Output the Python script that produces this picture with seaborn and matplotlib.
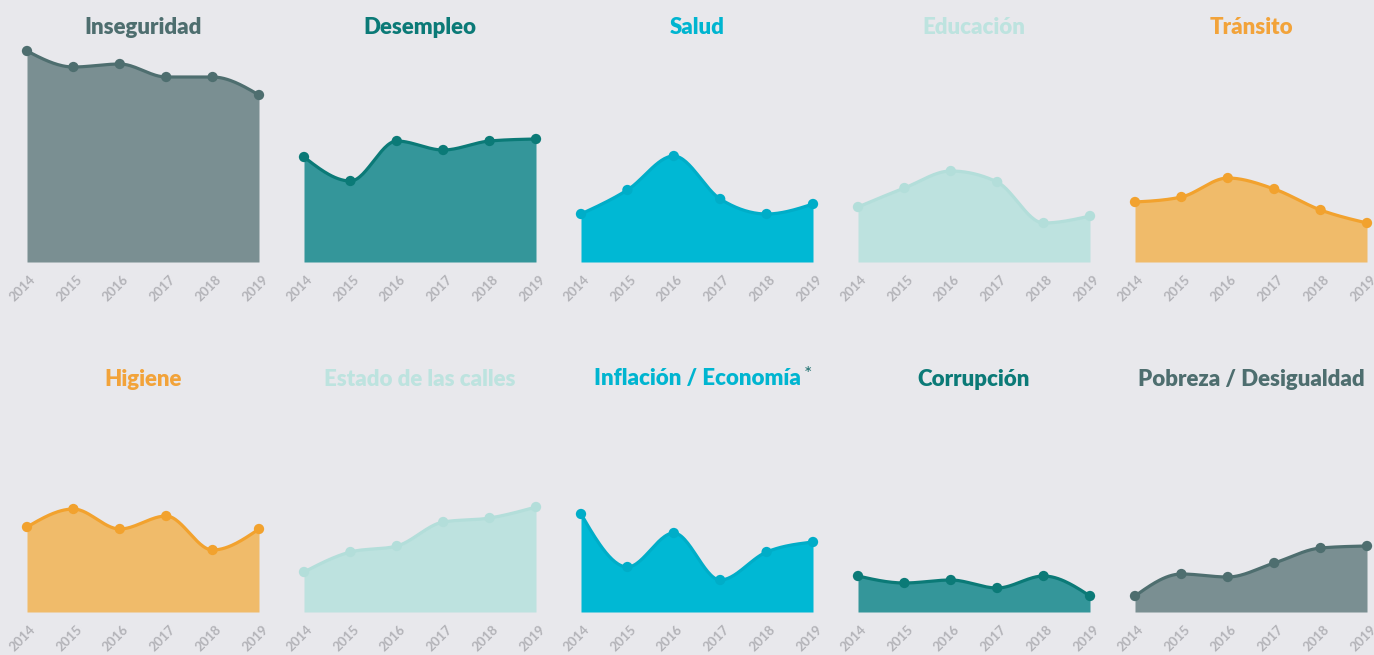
import numpy as np
import pandas as pd
import matplotlib
matplotlib.use("Agg")
import matplotlib.pyplot as plt
import matplotlib.transforms as mtransforms
import seaborn as sns

# years shared by every panel
years = [2014, 2015, 2016, 2017, 2018, 2019]

# values (same vertical scale for all panels)
inseguridad = [211, 195, 198, 185, 185, 167]
desempleo = [105, 81, 121, 112, 121, 123]
salud = [48, 72, 106, 63, 48, 58]
educacion = [55, 74, 91, 80, 39, 46]
transito = [60, 65, 84, 73, 52, 39]
higiene = [85, 103, 83, 96, 62, 83]
estado_calles = [40, 60, 66, 90, 94, 105]
inflacion = [98, 45, 79, 32, 60, 70]
corrupcion = [36, 29, 32, 24, 36, 16]
pobreza = [16, 38, 35, 49, 64, 66]

titles = ["Inseguridad", "Desempleo", "Salud", "Educación", "Tránsito",
          "Higiene", "Estado de las calles", "Inflación / Economía",
          "Corrupción", "Pobreza / Desigualdad"]
series = [inseguridad, desempleo, salud, educacion, transito,
          higiene, estado_calles, inflacion, corrupcion, pobreza]

# (line, fill) colours
slate = ("#4e6e6f", "#7a8f92")
teal = ("#0b7a77", "#34969a")
cyan = ("#00adc8", "#00b8d4")
mint = ("#b3deda", "#bde2df")
orange = ("#f2a22e", "#f0bb6a")
palette = [slate, teal, cyan, mint, orange,
           orange, mint, cyan, teal, slate]
title_colors = ["#4e6e6f", "#0b7a77", "#00b5d0", "#bde3df", "#f2a33a",
                "#f2a33a", "#bde3df", "#00b5d0", "#0b7a77", "#4e6e6f"]

BG = "#e8e8ec"


def monotone_curve(x, y, n=30):
    # d3 curveMonotoneX style smoothing, only for drawing
    x = np.asarray(x, float)
    y = np.asarray(y, float)
    h = np.diff(x)
    s = np.diff(y) / h
    m = np.zeros(len(x))
    for i in range(1, len(x) - 1):
        p = (s[i - 1] * h[i] + s[i] * h[i - 1]) / (h[i - 1] + h[i])
        m[i] = (np.sign(s[i - 1]) + np.sign(s[i])) * min(abs(s[i - 1]), abs(s[i]), 0.5 * abs(p))
    m[0] = (3 * s[0] - m[1]) / 2
    m[-1] = (3 * s[-1] - m[-2]) / 2
    xs, ys = [], []
    for i in range(len(x) - 1):
        t = np.linspace(0, 1, n, endpoint=(i == len(x) - 2))
        h00 = 2 * t**3 - 3 * t**2 + 1
        h10 = t**3 - 2 * t**2 + t
        h01 = -2 * t**3 + 3 * t**2
        h11 = t**3 - t**2
        xs.append(x[i] + t * h[i])
        ys.append(h00 * y[i] + h10 * h[i] * m[i] + h01 * y[i + 1] + h11 * h[i] * m[i + 1])
    return np.concatenate(xs), np.concatenate(ys)


sns.set_style("white")
plt.rcParams["font.family"] = ["Lato", "DejaVu Sans"]

W, H = 1374, 655
fig = plt.figure(figsize=(W / 100, H / 100), dpi=100)
fig.patch.set_facecolor(BG)

lefts = [27, 304, 581, 858, 1135]
bases = [262, 612]
pw, ph = 232, 211
shift = mtransforms.ScaledTranslation(-4 / 100, 0, fig.dpi_scale_trans)

for k, (title, vals) in enumerate(zip(titles, series)):
    row, col = divmod(k, 5)
    ax = fig.add_axes([lefts[col] / W, 1 - bases[row] / H, pw / W, ph / H])
    ax.set_facecolor(BG)
    line_c, fill_c = palette[k]

    df = pd.DataFrame({"year": years, "value": vals})
    sx, sy = monotone_curve(df["year"], df["value"])
    smooth = pd.DataFrame({"year": sx, "value": sy})

    ax.fill_between(smooth["year"], 0, smooth["value"], color=fill_c, lw=0, zorder=1)
    sns.lineplot(data=smooth, x="year", y="value", ax=ax, color=line_c,
                 lw=2.3, sort=False, zorder=2, clip_on=False)
    sns.scatterplot(data=df, x="year", y="value", ax=ax, color=line_c,
                    s=55, edgecolor="none", zorder=3, clip_on=False)

    ax.set_xlim(2014, 2019)
    ax.set_ylim(0, 211)
    ax.set_xticks(years)
    ax.set_xticks([y + 0.5 for y in years[:-1]], minor=True)
    ax.set_xticklabels([str(y) for y in years], rotation=45, ha="center",
                       fontsize=9.5, fontweight="bold", color="#b3b3b8")
    ax.tick_params(axis="x", which="both", length=5, width=1, color="#f6f6f8",
                   direction="out", pad=3)
    ax.set_yticks([])
    ax.set_xlabel("")
    ax.set_ylabel("")
    for sp in ax.spines.values():
        sp.set_visible(False)
    for lab in ax.get_xticklabels():
        lab.set_transform(lab.get_transform() + shift)

    cx = (lefts[col] + pw / 2) / W
    ty = 1 - (28 if row == 0 else 379) / H
    t = fig.text(cx, ty, title, ha="center", va="center", fontsize=16,
                 fontweight="heavy", color=title_colors[k])
    if title.startswith("Inflación"):
        fig.canvas.draw()
        bb = t.get_window_extent()
        fig.text((bb.x1 + 3) / W, ty + 4 / H, "*", ha="left", va="center",
                 fontsize=14, color="#1d6f6e")

fig.savefig("out.png", dpi=100, facecolor=BG)
